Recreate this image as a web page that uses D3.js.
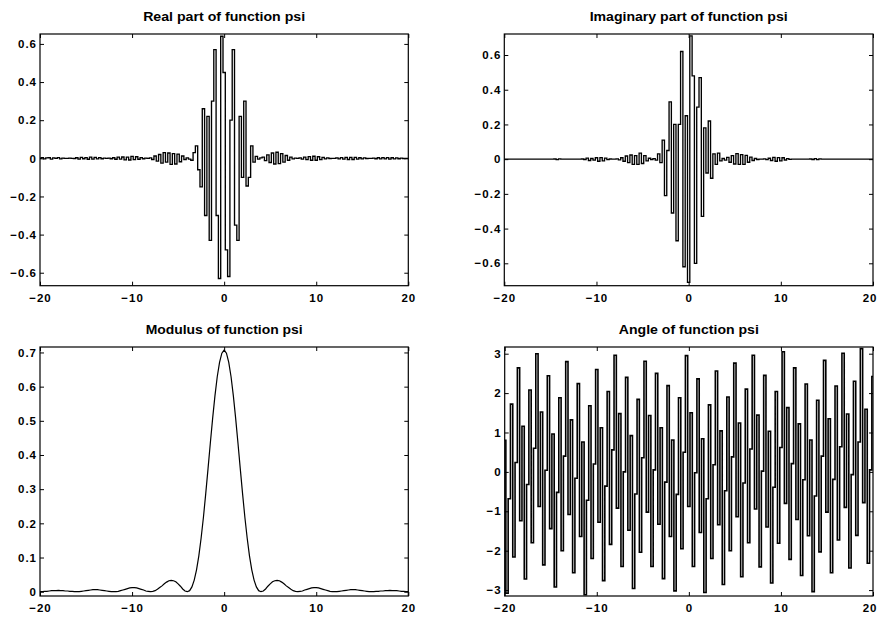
<!DOCTYPE html>
<html><head><meta charset="utf-8">
<script src="https://cdn.jsdelivr.net/npm/d3@7"></script>
<style>
body{margin:0;background:#fff}
svg text{font-family:"Liberation Sans",Arial,Helvetica,sans-serif;fill:#000}
</style>
</head><body>
<svg id="chart" width="878" height="617"></svg>
<script>
// grid of the sampled wavelet
const lb = -20, ub = 20, nSamples = 161;
const xTicks = [-20, -10, 0, 10, 20];
const partTicks = [-0.6, -0.4, -0.2, 0, 0.2, 0.4, 0.6];
const modTicks = [0, 0.1, 0.2, 0.3, 0.4, 0.5, 0.6, 0.7];
const angleTicks = [-3, -2, -1, 0, 1, 2, 3];
const titles = ["Real part of function psi", "Imaginary part of function psi",
                "Modulus of function psi", "Angle of function psi"];

const realPart = [
0,0.004,-0.003,0.002, 0.003,-0.004,0.002,0, 0.004,-0.003,0.001,0, 0,0.001,0,-0.001,
0.003,-0.004,0.005,-0.002, 0.004,-0.005,0.006,-0.004, 0.005,-0.003,0.004,-0.002, 0.001,0,0.001,-0.002,
0.003,-0.005,0.006,-0.004, 0.007,-0.008,0.006,-0.009, 0.01,-0.007,0.008,-0.005, 0.004,-0.002,0.001,0,
0.002,-0.006,0.012,-0.015, 0.02,-0.025,0.03,-0.02, 0.028,-0.032,0.025,-0.03, 0.022,-0.018,0.012,-0.006,
0.002,-0.004,-0.01,0.03, 0.065,-0.06,-0.15,0.26, -0.30,0.22,-0.43,0.30, 0.57,-0.30,-0.63,0.64,
0.45,-0.48,-0.62,0.20, 0.57,-0.35,-0.43,0.22, -0.10,0.30,-0.145,-0.10, 0.065,-0.02,0.01,-0.004,
0.002,0.006,-0.012,0.018, -0.022,0.028,-0.03,0.032, -0.028,0.025,-0.02,0.015, -0.01,0.006,-0.003,0.001,
0,0.002,-0.004,0.006, -0.007,0.009,-0.01,0.011, -0.01,0.008,-0.007,0.005, -0.003,0.002,-0.001,0,
0,0.002,-0.003,0.004, -0.004,0.005,-0.006,0.005, -0.006,0.005,-0.004,0.003, -0.003,0.002,-0.001,0,
0,0.001,-0.002,0.003, -0.003,0.004,-0.003,0.004, -0.004,0.003,-0.003,0.002, -0.002,0.001,-0.001,0,
0];

const imagPart = [
0,0,0,0, 0,0,0,0, 0,0,0,0, 0,0,0,0,
0,0,0,0, 0,0,0.001,-0.003, 0.002,0,0,0, 0,0,0,0,
0,0,0.001,-0.002, 0.006,-0.008,0.004,-0.006, 0.008,-0.012,0.009,-0.01, 0.006,-0.003,0.001,0,
0,0.002,-0.004,0.008, -0.012,0.018,-0.02,0.024, -0.03,0.02,-0.03,0.035, -0.025,0.02,-0.01,0.005,
-0.002,0.003,-0.006,0.03, -0.02,0.11,-0.21,0.05, 0.33,-0.31,0.20,-0.47, 0.20,0.62,-0.62,0.25,
-0.71,0.71,0.48,-0.60, 0.30,0.47,-0.33,0.18, -0.08,0.22,-0.11,0.03, -0.03,0.035,-0.01,0.004,
-0.006,0.01,-0.018,0.02, -0.028,0.032,-0.03,0.026, -0.03,0.022,-0.018,0.012, -0.008,0.004,-0.002,0,
0,0.002,-0.003,0.005, -0.008,0.01,-0.012,0.009, -0.01,0.008,-0.005,0.003, -0.001,0,0,0,
0,0,0,0, 0,0.001,-0.002,0.003, -0.003,0.002,0,0, 0,0,0,0,
0,0,0,0, 0,0,0,0, 0,0,0,0, 0,0,0,0,
0];

const modulus = [
0.000,0.000,0.001,0.001,0.002,0.003,0.003,0.003, 0.004,0.003,0.003,0.002,0.002,0.001,0.001,0.000,
0.000,0.000,0.001,0.002,0.003,0.004,0.005,0.006, 0.006,0.006,0.005,0.004,0.003,0.002,0.001,0.000,
0.000,0.000,0.001,0.003,0.005,0.007,0.009,0.011, 0.012,0.012,0.011,0.009,0.007,0.005,0.002,0.001,
0.000,0.001,0.003,0.007,0.012,0.017,0.023,0.028, 0.032,0.033,0.032,0.029,0.023,0.016,0.008,0.002,
0.000,0.003,0.014,0.034,0.064,0.105,0.157,0.218, 0.287,0.360,0.435,0.507,0.573,0.629,0.671,0.698,
0.707,
0.698,0.671,0.629,0.573,0.507,0.435,0.360,0.287, 0.218,0.157,0.105,0.064,0.034,0.014,0.003,0.000,
0.002,0.008,0.016,0.023,0.029,0.032,0.033,0.032, 0.028,0.023,0.017,0.012,0.007,0.003,0.001,0.000,
0.001,0.002,0.005,0.007,0.009,0.011,0.012,0.012, 0.011,0.009,0.007,0.005,0.003,0.001,0.000,0.000,
0.000,0.001,0.002,0.003,0.004,0.005,0.006,0.006, 0.006,0.005,0.004,0.003,0.002,0.001,0.000,0.000,
0.000,0.001,0.001,0.002,0.002,0.003,0.003,0.004, 0.003,0.003,0.003,0.002,0.001,0.001,0.000,0.000];

const angle = [
0.80,-3.08,-0.68,1.72,-2.16,0.24,2.64,-1.24,1.16,-2.72,
-0.32,2.08,-1.80,0.60,3.00,-0.88,1.52,-2.36,0.04,2.44,
-1.44,0.96,-2.92,-0.52,1.88,-2.00,0.40,2.80,-1.08,1.32,
-2.56,-0.16,2.24,-1.64,0.76,-3.12,-0.72,1.68,-2.20,0.20,
2.60,-1.28,1.12,-2.76,-0.36,2.04,-1.84,0.56,2.96,-0.92,
1.48,-2.40,0.00,2.40,-1.48,0.92,-2.96,-0.56,1.84,-2.04,
0.36,2.81,-1.02,1.43,-2.40,0.05,2.50,-1.33,1.12,-2.71,
-0.26,2.19,-1.64,0.81,-3.02,-0.57,1.88,-1.95,0.50,2.95,
-0.88,1.50,-2.40,-0.02,2.36,-1.54,0.84,-3.06,-0.68,1.70,
-2.20,0.18,2.56,-1.34,1.04,-2.86,-0.48,1.90,-2.00,0.38,
2.76,-1.14,1.24,-2.66,-0.28,2.10,-1.80,0.58,2.96,-0.94,
1.44,-2.41,0.02,2.45,-1.40,1.03,-2.82,-0.39,2.04,-1.81,
0.62,3.05,-0.80,1.63,-2.22,0.21,2.64,-1.21,1.22,-2.63,
-0.20,2.23,-1.62,0.81,-3.04,-0.61,1.82,-2.03,0.40,2.83,
-1.02,1.35,-2.56,-0.19,2.18,-1.73,0.64,3.01,-0.90,1.47,
-2.44,-0.07,2.30,-1.61,0.76,3.13,-0.78,1.59,-2.32,0.05,
2.42];

const xs = d3.range(nSamples).map(i => lb + i * (ub - lb) / (nSamples - 1));

const svg = d3.select("#chart");
const panels = [
  {values: realPart, yDomain: [-0.668, 0.652], yTicks: partTicks, fmt: d3.format(".1f"), step: true, sw: 1.35,
   left: 40, top: 34, w: 368.3, h: 251.7, titleW: 162},
  {values: imagPart, yDomain: [-0.729, 0.721], yTicks: partTicks, fmt: d3.format(".1f"), step: true, sw: 1.35,
   left: 504.3, top: 34, w: 368.7, h: 251.7, titleW: 198},
  {values: modulus, yDomain: [-0.0126, 0.716], yTicks: modTicks, fmt: d3.format(".1f"), step: false, sw: 1.2,
   left: 40, top: 347, w: 368.3, h: 249, titleW: 157},
  {values: angle, yDomain: [-3.15, 3.17], yTicks: angleTicks, fmt: d3.format("d"), step: true, sw: 1.6,
   left: 504.7, top: 347, w: 368.3, h: 249, titleW: 140}
];

const labelStyle = sel => sel.attr("font-size", 11.5).attr("font-weight", "bold")
  .attr("letter-spacing", "1px").attr("fill", "#000")
  .style("font-family", '"Liberation Sans", Arial, sans-serif');

panels.forEach((p, idx) => {
  const g = svg.append("g").attr("transform", `translate(${p.left},${p.top})`);
  const x = d3.scaleLinear().domain([lb, ub]).range([0, p.w]);
  const y = d3.scaleLinear().domain(p.yDomain).range([p.h, 0]);
  const fmtY = d => d === 0 ? "0" : p.fmt(d);

  const line = d3.line().x((d, i) => x(xs[i])).y(d => y(d))
    .curve(p.step ? d3.curveStep : d3.curveLinear);
  g.append("path").datum(p.values).attr("d", line)
    .attr("fill", "none").attr("stroke", "#000").attr("stroke-width", p.sw)
    .attr("stroke-linejoin", "miter");

  const tl = -4;
  const bottom = g.append("g").attr("transform", `translate(0,${p.h})`)
      .call(d3.axisBottom(x).tickValues(xTicks).tickSize(tl).tickPadding(8).tickFormat(d3.format("d")));
  const left = g.append("g")
      .call(d3.axisLeft(y).tickValues(p.yTicks).tickSize(tl).tickPadding(3).tickFormat(fmtY));
  const top = g.append("g")
      .call(d3.axisTop(x).tickValues(xTicks).tickSize(tl).tickFormat(""));
  const right = g.append("g").attr("transform", `translate(${p.w},0)`)
      .call(d3.axisRight(y).tickValues(p.yTicks).tickSize(tl).tickFormat(""));
  [bottom, left, top, right].forEach(a => {
    a.select(".domain").remove();
    a.selectAll("line").attr("stroke", "#000").attr("stroke-width", 1);
    a.selectAll("text").call(labelStyle);
  });
  // keep the last x label inside the page for the right-hand column
  if (p.left + p.w > 860) {
    bottom.selectAll(".tick").filter(d => d === ub).select("text")
      .attr("text-anchor", "end").attr("dx", (878 - p.left - p.w - 1) + "px");
  }

  g.append("rect").attr("width", p.w).attr("height", p.h)
    .attr("fill", "none").attr("stroke", "#000").attr("stroke-width", 1.2);

  g.append("text").attr("x", p.w / 2).attr("y", -13)
    .attr("text-anchor", "middle").attr("font-size", 12.5).attr("font-weight", "bold")
    .attr("textLength", p.titleW).attr("lengthAdjust", "spacingAndGlyphs")
    .text(titles[idx]);
});
</script>
</body></html>
